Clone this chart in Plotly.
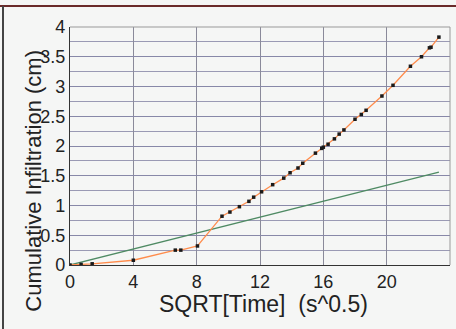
import plotly.graph_objects as go

# Measured cumulative infiltration against square root of elapsed time
sqrt_time = [0.0, 0.7, 1.4, 4.0, 6.65, 7.0, 8.05, 9.6, 10.1, 10.7, 11.3, 11.6, 12.1,
             12.8, 13.5, 13.9, 14.4, 14.7, 15.5, 15.9, 16.0, 16.3, 16.7, 17.0, 17.3,
             18.0, 18.4, 18.7, 19.7, 20.4, 21.5, 22.2, 22.7, 22.8, 23.3]
infiltration = [0.0, 0.01, 0.02, 0.08, 0.25, 0.25, 0.32, 0.82, 0.89, 0.98, 1.07, 1.14, 1.23,
                1.35, 1.46, 1.55, 1.63, 1.71, 1.88, 1.96, 1.98, 2.03, 2.12, 2.20, 2.27,
                2.45, 2.53, 2.60, 2.84, 3.02, 3.34, 3.50, 3.65, 3.66, 3.83]

# Linear fit (sorptivity line)
fit_x = [0.0, 23.3]
fit_y = [0.0, 1.56]

x_ticks = [0, 4, 8, 12, 16, 20, 24]
y_ticks = [0, 0.5, 1, 1.5, 2, 2.5, 3, 3.5, 4]
y_tick_text = ["0", "0.5", "1", "1.5", "2", "2.5", "3", "3.5", "4"]

FONT = "Liberation Sans, Arial, sans-serif"
BG = "#f5f6f5"
TXT = "#222222"

fig = go.Figure()
fig.add_trace(go.Scatter(
    x=fit_x, y=fit_y, mode="lines",
    line=dict(color="#4e8a63", width=1.3), showlegend=False))
fig.add_trace(go.Scatter(
    x=sqrt_time, y=infiltration, mode="lines+markers",
    line=dict(color="#ff8c4c", width=1.3),
    marker=dict(symbol="square", size=3.5, color="#1a1a1a"),
    showlegend=False))

fig.update_layout(
    width=456, height=329,
    margin=dict(l=70, r=6, t=27, b=64),
    paper_bgcolor=BG, plot_bgcolor=BG,
    font=dict(family=FONT, color=TXT),
    xaxis=dict(
        range=[0, 24], tickvals=x_ticks, ticks="", showgrid=True,
        gridcolor="#8a8a9a", gridwidth=1, zeroline=False,
        showline=True, linecolor="#333333", linewidth=1.2,
        tickfont=dict(size=18, family=FONT, color=TXT),
    ),
    yaxis=dict(
        range=[0, 4], tickvals=y_ticks, ticktext=y_tick_text, ticks="",
        showgrid=True, gridcolor="#8888a8", gridwidth=1, zeroline=False,
        minor=dict(dtick=0.25, showgrid=True, gridcolor="#9a9ab4", gridwidth=1),
        showline=True, linecolor="#333333", linewidth=1.2,
        tickfont=dict(size=18, family=FONT, color=TXT),
    ),
    annotations=[
        dict(text="SQRT[Time]  (s^0.5)", xref="paper", yref="paper",
             x=0.51, y=-0.1, xanchor="center", yanchor="top", showarrow=False,
             font=dict(size=23, family=FONT, color=TXT)),
        dict(text="Cumulative Infiltration (cm)", xref="paper", yref="paper",
             x=-0.097, y=0.355, xanchor="center", yanchor="middle", textangle=-90,
             showarrow=False, font=dict(size=22, family=FONT, color=TXT)),
    ],
    shapes=[
        # frame around the plotting area (top and right edges)
        dict(type="line", xref="paper", yref="paper", x0=0, x1=1, y0=1, y1=1,
             line=dict(color="#999999", width=1)),
        dict(type="line", xref="paper", yref="paper", x0=1, x1=1, y0=0, y1=1,
             line=dict(color="#999999", width=1)),
        # page border lines
        dict(type="line", xref="paper", yref="paper", x0=-0.2, x1=1.02,
             y0=1.0 + 21 / 238, y1=1.0 + 21 / 238, layer="above",
             line=dict(color="#6a2a2a", width=2)),
        dict(type="line", xref="paper", yref="paper", x0=-67 / 380, x1=-67 / 380,
             y0=-0.27, y1=1.0 + 21 / 238, layer="above",
             line=dict(color="#444444", width=2)),
    ],
)

fig.write_html("out.html")
